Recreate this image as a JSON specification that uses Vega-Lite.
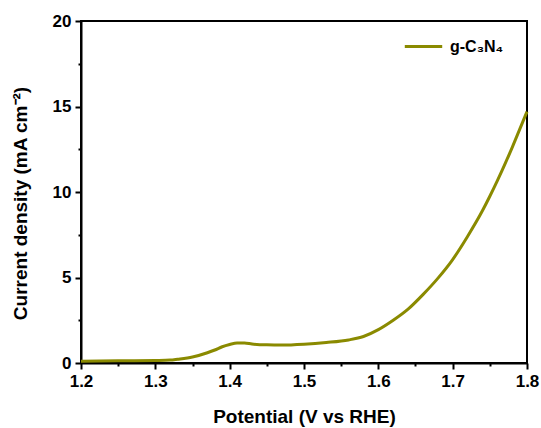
{
  "$schema": "https://vega.github.io/schema/vega-lite/v6.json",
  "autosize": {"type": "none"},
  "width": 446,
  "height": 342,
  "padding": {"left": 81, "top": 21, "right": 14, "bottom": 65},
  "background": "white",
  "config": {
    "view": {"stroke": "black", "strokeWidth": 2},
    "font": "Liberation Sans"
  },
  "data": {
    "values": [
      {"v": 1.20, "j": 0.10, "s": "g-C₃N₄"},
      {"v": 1.25, "j": 0.13, "s": "g-C₃N₄"},
      {"v": 1.30, "j": 0.15, "s": "g-C₃N₄"},
      {"v": 1.32, "j": 0.17, "s": "g-C₃N₄"},
      {"v": 1.33, "j": 0.22, "s": "g-C₃N₄"},
      {"v": 1.35, "j": 0.35, "s": "g-C₃N₄"},
      {"v": 1.37, "j": 0.60, "s": "g-C₃N₄"},
      {"v": 1.38, "j": 0.76, "s": "g-C₃N₄"},
      {"v": 1.39, "j": 0.95, "s": "g-C₃N₄"},
      {"v": 1.40, "j": 1.08, "s": "g-C₃N₄"},
      {"v": 1.41, "j": 1.17, "s": "g-C₃N₄"},
      {"v": 1.42, "j": 1.17, "s": "g-C₃N₄"},
      {"v": 1.43, "j": 1.11, "s": "g-C₃N₄"},
      {"v": 1.45, "j": 1.06, "s": "g-C₃N₄"},
      {"v": 1.47, "j": 1.05, "s": "g-C₃N₄"},
      {"v": 1.50, "j": 1.10, "s": "g-C₃N₄"},
      {"v": 1.53, "j": 1.20, "s": "g-C₃N₄"},
      {"v": 1.56, "j": 1.35, "s": "g-C₃N₄"},
      {"v": 1.58, "j": 1.55, "s": "g-C₃N₄"},
      {"v": 1.60, "j": 1.95, "s": "g-C₃N₄"},
      {"v": 1.62, "j": 2.50, "s": "g-C₃N₄"},
      {"v": 1.64, "j": 3.15, "s": "g-C₃N₄"},
      {"v": 1.66, "j": 4.00, "s": "g-C₃N₄"},
      {"v": 1.68, "j": 4.95, "s": "g-C₃N₄"},
      {"v": 1.70, "j": 6.05, "s": "g-C₃N₄"},
      {"v": 1.72, "j": 7.40, "s": "g-C₃N₄"},
      {"v": 1.74, "j": 8.90, "s": "g-C₃N₄"},
      {"v": 1.75, "j": 9.75, "s": "g-C₃N₄"},
      {"v": 1.76, "j": 10.65, "s": "g-C₃N₄"},
      {"v": 1.77, "j": 11.60, "s": "g-C₃N₄"},
      {"v": 1.78, "j": 12.60, "s": "g-C₃N₄"},
      {"v": 1.79, "j": 13.65, "s": "g-C₃N₄"},
      {"v": 1.80, "j": 14.70, "s": "g-C₃N₄"}
    ]
  },
  "mark": {"type": "line", "strokeWidth": 3, "interpolate": "monotone"},
  "encoding": {
    "x": {
      "field": "v", "type": "quantitative",
      "scale": {"domain": [1.2, 1.8], "nice": false, "zero": false},
      "axis": {
        "title": "Potential (V vs RHE)",
        "values": [1.2, 1.25, 1.3, 1.35, 1.4, 1.45, 1.5, 1.55, 1.6, 1.65, 1.7, 1.75, 1.8],
        "labelExpr": "abs(round(datum.value*10) - datum.value*10) > 0.01 ? '' : format(datum.value, '.1f')",
        "grid": false,
        "domainColor": "black", "domainWidth": 2,
        "tickColor": "black", "tickWidth": 2,
        "tickSize": {"condition": {"test": "abs(round(datum.value*10) - datum.value*10) > 0.01", "value": 3}, "value": 6},
        "labelFont": "Liberation Sans", "labelFontSize": 17, "labelFontWeight": "bold", "labelColor": "black",
        "labelPadding": 4, "labelFlush": false, "labelOverlap": false,
        "titleFont": "Liberation Sans", "titleFontSize": 19, "titleFontWeight": "bold", "titleColor": "black",
        "titleY": 59, "titleX": 223, "titleAlign": "center", "titleBaseline": "alphabetic"
      }
    },
    "y": {
      "field": "j", "type": "quantitative",
      "scale": {"domain": [0, 20], "nice": false},
      "axis": {
        "title": "Current density (mA cm⁻²)",
        "values": [0, 2.5, 5, 7.5, 10, 12.5, 15, 17.5, 20],
        "labelExpr": "datum.value % 5 != 0 ? '' : datum.label",
        "grid": false,
        "domainColor": "black", "domainWidth": 2,
        "tickColor": "black", "tickWidth": 2,
        "tickSize": {"condition": {"test": "datum.value % 5 != 0", "value": 3}, "value": 6},
        "labelFont": "Liberation Sans", "labelFontSize": 17, "labelFontWeight": "bold", "labelColor": "black",
        "labelPadding": 4, "labelFlush": false, "labelOverlap": false,
        "titleFont": "Liberation Sans", "titleFontSize": 19, "titleFontWeight": "bold", "titleColor": "black",
        "titleX": -61, "titleY": 182, "titleAngle": -90, "titleAlign": "center", "titleBaseline": "middle"
      }
    },
    "color": {
      "field": "s", "type": "nominal",
      "scale": {"range": ["#8a8a00"]},
      "legend": {
        "title": null,
        "orient": "none",
        "legendX": 322,
        "legendY": 5,
        "symbolType": "stroke",
        "symbolSize": 1400,
        "symbolStrokeWidth": 3,
        "labelFont": "Liberation Sans",
        "labelFontSize": 16,
        "labelFontWeight": "bold",
        "labelColor": "black",
        "labelOffset": 6
      }
    }
  }
}
